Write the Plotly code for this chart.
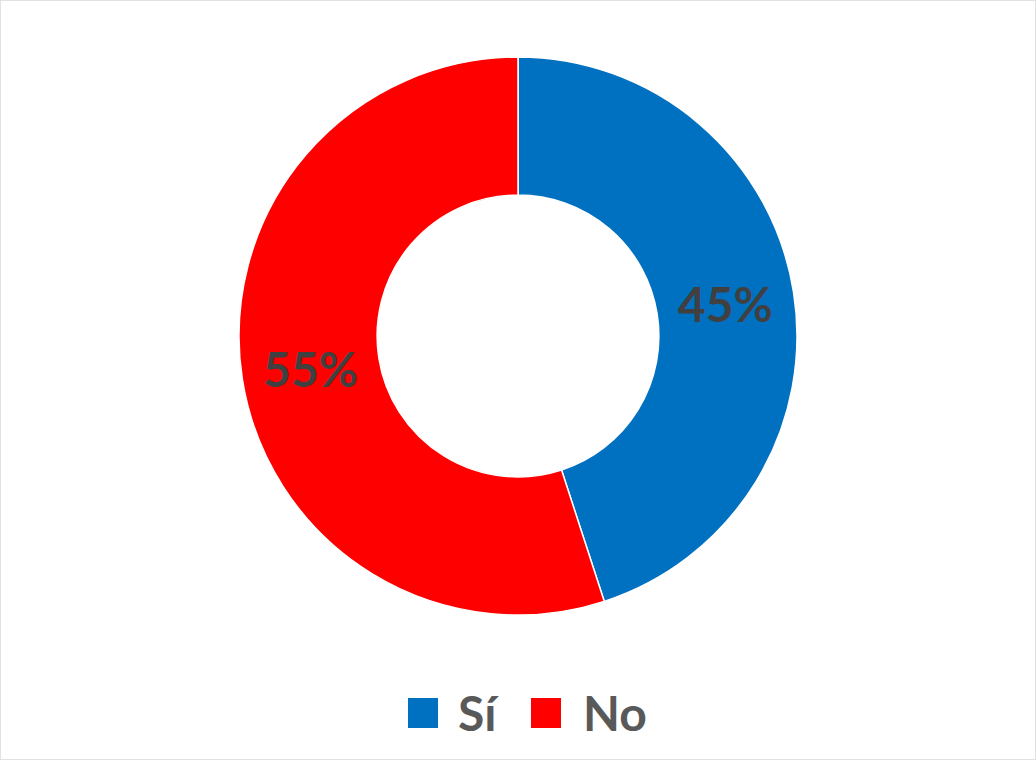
import plotly.graph_objects as go

labels = ["Sí", "No"]
values = [45, 55]
colors = ["#0070C0", "#FF0000"]

W, H = 1036, 760

fig = go.Figure()
fig.add_trace(go.Pie(
    labels=labels,
    values=values,
    hole=0.505,
    sort=False,
    direction="clockwise",
    rotation=0,
    marker=dict(colors=colors, line=dict(color="white", width=1.5)),
    textinfo="percent",
    texttemplate="%{percent:.0%}",
    textposition="inside",
    insidetextorientation="horizontal",
    textfont=dict(family="Lato", size=48, color="#404040", weight="bold"),
    domain=dict(x=[0, 1], y=[(H - 615) / H, (H - 57) / H]),
    showlegend=False,
))

# custom legend (large square swatches like the original)
shapes = []
annotations = []
sq_x = [408, 531]
txt_x = [456, 581]
for lab, col, sx, tx in zip(labels, colors, sq_x, txt_x):
    shapes.append(dict(type="rect", xref="paper", yref="paper",
                       x0=sx / W, x1=(sx + 30) / W,
                       y0=(H - 728) / H, y1=(H - 698) / H,
                       fillcolor=col, line=dict(width=0)))
    annotations.append(dict(text=lab, xref="paper", yref="paper",
                            x=tx / W, y=(H - 712) / H, xanchor="left", yanchor="middle",
                            showarrow=False,
                            font=dict(family="Lato", size=48, color="#595959", weight="bold")))

# outer border
shapes.append(dict(type="rect", xref="paper", yref="paper", x0=0, x1=1, y0=0, y1=1,
                   line=dict(color="#D9D9D9", width=1.5), fillcolor="rgba(0,0,0,0)"))

fig.update_layout(
    width=W, height=H,
    margin=dict(l=0, r=0, t=0, b=0),
    paper_bgcolor="white",
    plot_bgcolor="white",
    shapes=shapes,
    annotations=annotations,
    uniformtext=dict(minsize=48, mode="show"),
)

fig.write_html("out.html",
               config={"displayModeBar": False},
               post_script="document.body.style.margin='0px';document.body.style.overflow='hidden';")
